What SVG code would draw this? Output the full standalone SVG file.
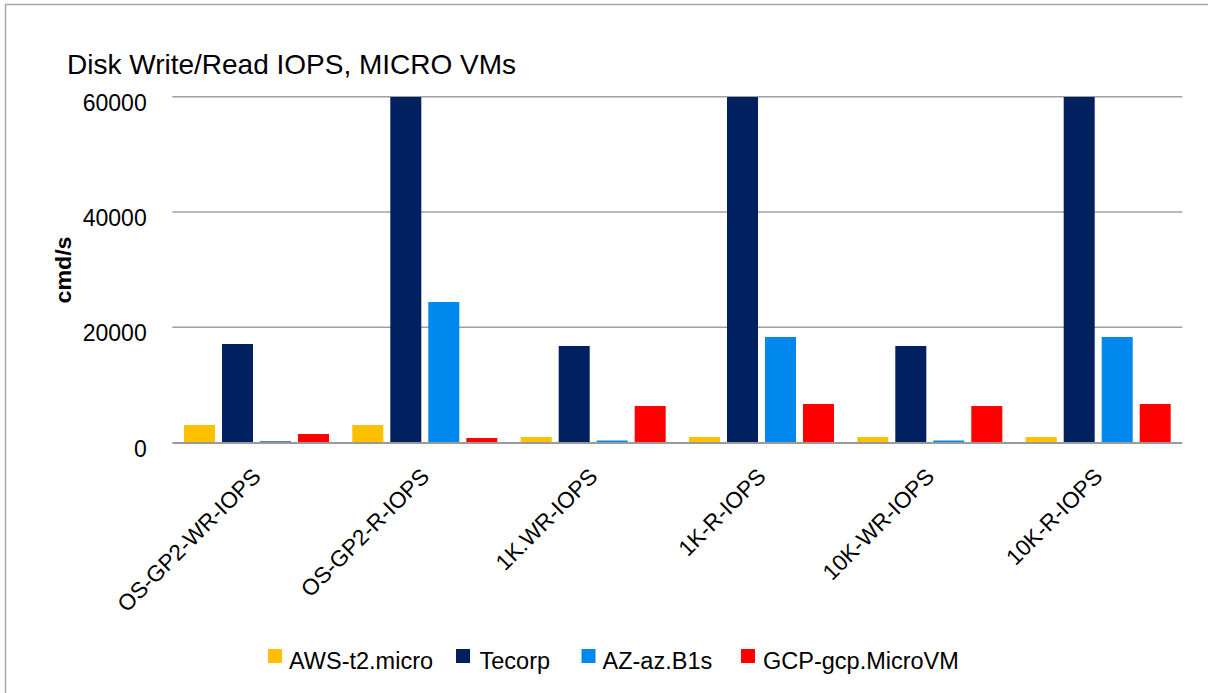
<svg xmlns="http://www.w3.org/2000/svg" width="1208" height="693" viewBox="0 0 1208 693">
  <style>
    text { font-family: "Liberation Sans", Arial, sans-serif; fill: #000; }
    .grid { stroke: #a0a0a0; stroke-width: 1.5; fill: none; }
    .axis { stroke: #9a9a9a; stroke-width: 2; fill: none; }
    .ylab { font-size: 23px; text-anchor: end; }
    .xlab { font-size: 22.5px; text-anchor: end; }
    .leg { font-size: 23.5px; }
    .aws { fill: #FFC000; }
    .tec { fill: #002060; }
    .az { fill: #0088EE; }
    .gcp { fill: #FF0000; }
  </style>

  <!-- chart frame -->
  <rect x="0" y="0" width="1208" height="693" fill="#ffffff"/>
  <path d="M5.5,693 V4.5 H1208" stroke="#a6a6a6" stroke-width="1.5" fill="none"/>

  <!-- title -->
  <text id="title" x="67" y="74" font-size="28">Disk Write/Read IOPS, MICRO VMs</text>

  <!-- value axis -->
  <g id="y-axis">
    <line class="grid" x1="172.3" y1="96.7" x2="1182.3" y2="96.7"/>
    <line class="grid" x1="172.3" y1="212" x2="1182.3" y2="212"/>
    <line class="grid" x1="172.3" y1="327.3" x2="1182.3" y2="327.3"/>
    <text class="ylab" x="146.7" y="110.5">60000</text>
    <text class="ylab" x="146.7" y="226">40000</text>
    <text class="ylab" x="146.7" y="341.3">20000</text>
    <text class="ylab" x="146.7" y="456.6">0</text>
    <text transform="translate(71,270) rotate(-90)" font-size="22" font-weight="bold" text-anchor="middle" textLength="67" lengthAdjust="spacingAndGlyphs">cmd/s</text>
  </g>

  <!-- bars: group pitch 168.33, bar width 31, bar pitch 38 -->
  <g id="series-aws" class="aws">
    <rect x="184" y="425" width="31" height="17"/>
    <rect x="352.3" y="425" width="31" height="17"/>
    <rect x="520.7" y="437" width="31" height="5"/>
    <rect x="689" y="437" width="31" height="5"/>
    <rect x="857.3" y="437" width="31" height="5"/>
    <rect x="1025.7" y="437" width="31" height="5"/>
  </g>
  <g id="series-tecorp" class="tec">
    <rect x="222" y="344" width="31" height="98"/>
    <rect x="390.3" y="97" width="31" height="345"/>
    <rect x="558.7" y="346" width="31" height="96"/>
    <rect x="727" y="97" width="31" height="345"/>
    <rect x="895.3" y="346" width="31" height="96"/>
    <rect x="1063.7" y="97" width="31" height="345"/>
  </g>
  <g id="series-az" class="az">
    <rect x="260" y="441" width="31" height="3" fill="#4a86b4"/>
    <rect x="428.3" y="302" width="31" height="140"/>
    <rect x="596.7" y="440.5" width="31" height="1.5"/>
    <rect x="765" y="337" width="31" height="105"/>
    <rect x="933.3" y="440.5" width="31" height="1.5"/>
    <rect x="1101.7" y="337" width="31" height="105"/>
  </g>
  <g id="series-gcp" class="gcp">
    <rect x="298" y="434" width="31" height="8"/>
    <rect x="466.3" y="438" width="31" height="4"/>
    <rect x="634.7" y="406" width="31" height="36"/>
    <rect x="803" y="404" width="31" height="38"/>
    <rect x="971.3" y="406" width="31" height="36"/>
    <rect x="1139.7" y="404" width="31" height="38"/>
  </g>

  <!-- category axis -->
  <g id="x-axis">
    <line class="axis" x1="172.3" y1="443" x2="1182.3" y2="443"/>
    <text class="xlab" transform="translate(262,478) rotate(-45)">OS-GP2-WR-IOPS</text>
    <text class="xlab" transform="translate(430.5,478) rotate(-45)">OS-GP2-R-IOPS</text>
    <text class="xlab" transform="translate(598.8,478) rotate(-45)">1K.WR-IOPS</text>
    <text class="xlab" transform="translate(767.2,478) rotate(-45)">1K-R-IOPS</text>
    <text class="xlab" transform="translate(935.5,478) rotate(-45)">10K-WR-IOPS</text>
    <text class="xlab" transform="translate(1103.8,478) rotate(-45)">10K-R-IOPS</text>
  </g>

  <!-- legend -->
  <g id="legend">
    <g id="legend-aws"><rect class="aws" x="268" y="649" width="14" height="14"/><text class="leg" x="289" y="669">AWS-t2.micro</text></g>
    <g id="legend-tecorp"><rect class="tec" x="456" y="649" width="14" height="14"/><text class="leg" x="479.5" y="669">Tecorp</text></g>
    <g id="legend-az"><rect class="az" x="581.5" y="649" width="14" height="14"/><text class="leg" x="602.5" y="669">AZ-az.B1s</text></g>
    <g id="legend-gcp"><rect class="gcp" x="741" y="649" width="14" height="14"/><text class="leg" x="763" y="669">GCP-gcp.MicroVM</text></g>
  </g>
</svg>
